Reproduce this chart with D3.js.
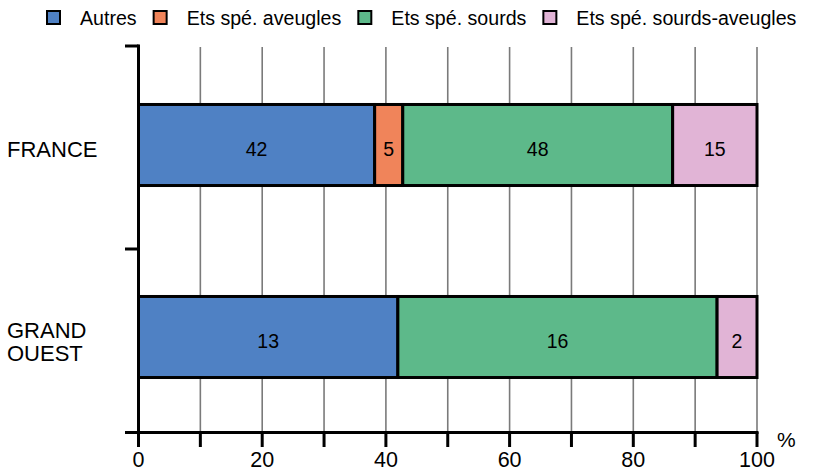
<!DOCTYPE html>
<html><head><meta charset="utf-8">
<script src="https://cdn.jsdelivr.net/npm/d3@7"></script>
<style>body{margin:0;background:#fff}svg{display:block;font-family:"Liberation Sans",Arial,sans-serif}</style>
</head><body>
<svg id="c" width="813" height="471"></svg>
<script>
const categories = ["FRANCE", "GRAND OUEST"];
const seriesNames = ["Autres", "Ets spé. aveugles", "Ets spé. sourds", "Ets spé. sourds-aveugles"];
const autres = [42, 13];
const aveugles = [5, 0];
const sourds = [48, 16];
const sourdsAveugles = [15, 2];
const xTicks = [0, 10, 20, 30, 40, 50, 60, 70, 80, 90, 100];
const xTickLabels = ["0", "", "20", "", "40", "", "60", "", "80", "", "100"];
const colors = ["#4F81C4", "#F0845A", "#5DB98A", "#E1B4D6"];

const svg = d3.select("#c");
const x = d3.scaleLinear().domain([0, 100]).range([138.5, 757]);
const y = d3.scaleBand().domain(categories).range([49, 433]).paddingInner(0.578).paddingOuter(0.289);
const yAxisPos = d3.scaleLinear().domain([0, 1, 2]).range([46, 249, 432.5]);

const series = [autres, aveugles, sourds, sourdsAveugles];
const rows = categories.map((c, i) => {
  const vals = series.map(s => s[i]);
  const total = d3.sum(vals);
  let acc = 0;
  return vals.map((v, k) => {
    const p0 = acc / total * 100; acc += v;
    return {cat: c, k, v, p0, p1: acc / total * 100};
  });
});

// gridlines
svg.append("g").selectAll("line").data(xTicks.filter(t => t > 0)).join("line")
  .attr("x1", d => x(d)).attr("x2", d => x(d))
  .attr("y1", 47).attr("y2", 432)
  .attr("stroke", "#7a7a7a").attr("stroke-width", 1.6);

// bars
const gBars = svg.append("g");
rows.forEach(r => {
  const segs = r.filter(d => d.v > 0);
  gBars.selectAll(null).data(segs).join("rect")
    .attr("x", d => x(d.p0)).attr("width", d => x(d.p1) - x(d.p0))
    .attr("y", d => y(d.cat)).attr("height", y.bandwidth())
    .attr("fill", d => colors[d.k]).attr("stroke", "#000").attr("stroke-width", 3);
  gBars.selectAll(null).data(segs).join("text")
    .attr("x", d => (x(d.p0) + x(d.p1)) / 2)
    .attr("y", d => y(d.cat) + y.bandwidth() / 2 + 11)
    .attr("text-anchor", "middle").attr("font-size", 19.5).attr("fill", "#000")
    .text(d => d.v);
});

// bottom axis
const ax = svg.append("g");
ax.append("line").attr("x1", 125).attr("x2", x(100) + 1.5).attr("y1", 432.5).attr("y2", 432.5)
  .attr("stroke", "#000").attr("stroke-width", 3);
ax.selectAll("line.t").data(xTicks).join("line").attr("class", "t")
  .attr("x1", d => x(d)).attr("x2", d => x(d)).attr("y1", 432).attr("y2", 447)
  .attr("stroke", "#000").attr("stroke-width", 3);
ax.selectAll("text").data(xTicks).join("text")
  .attr("x", d => x(d)).attr("y", 467).attr("text-anchor", "middle")
  .attr("font-size", 21.5).text((d, i) => xTickLabels[i]);
svg.append("text").attr("x", 777).attr("y", 447).attr("font-size", 21).text("%");

// left axis
const ay = svg.append("g");
ay.append("line").attr("x1", x(0)).attr("x2", x(0)).attr("y1", 44.5).attr("y2", 433)
  .attr("stroke", "#000").attr("stroke-width", 3);
ay.selectAll("line.t").data([0, 1, 2]).join("line").attr("class", "t")
  .attr("x1", 125).attr("x2", x(0)).attr("y1", d => yAxisPos(d)).attr("y2", d => yAxisPos(d))
  .attr("stroke", "#000").attr("stroke-width", 3);
categories.forEach(c => {
  const words = c.split(" ");
  const cy = y(c) + y.bandwidth() / 2;
  const t = svg.append("text").attr("x", 7).attr("font-size", 22);
  words.forEach((w, i) => {
    t.append("tspan").attr("x", 7)
      .attr("y", cy + 12 + (i - (words.length - 1) / 2) * 23).text(w);
  });
});

// legend
const lg = svg.append("g");
let lx = 47;
seriesNames.forEach((n, i) => {
  lg.append("rect").attr("x", lx).attr("y", 11).attr("width", 13).attr("height", 13)
    .attr("fill", colors[i]).attr("stroke", "#000").attr("stroke-width", 2);
  const t = lg.append("text").attr("x", lx + 33).attr("y", 25).attr("font-size", 19.6).text(n);
  lx = lx + 33 + t.node().getComputedTextLength() + 17;
});
</script>
</body></html>
